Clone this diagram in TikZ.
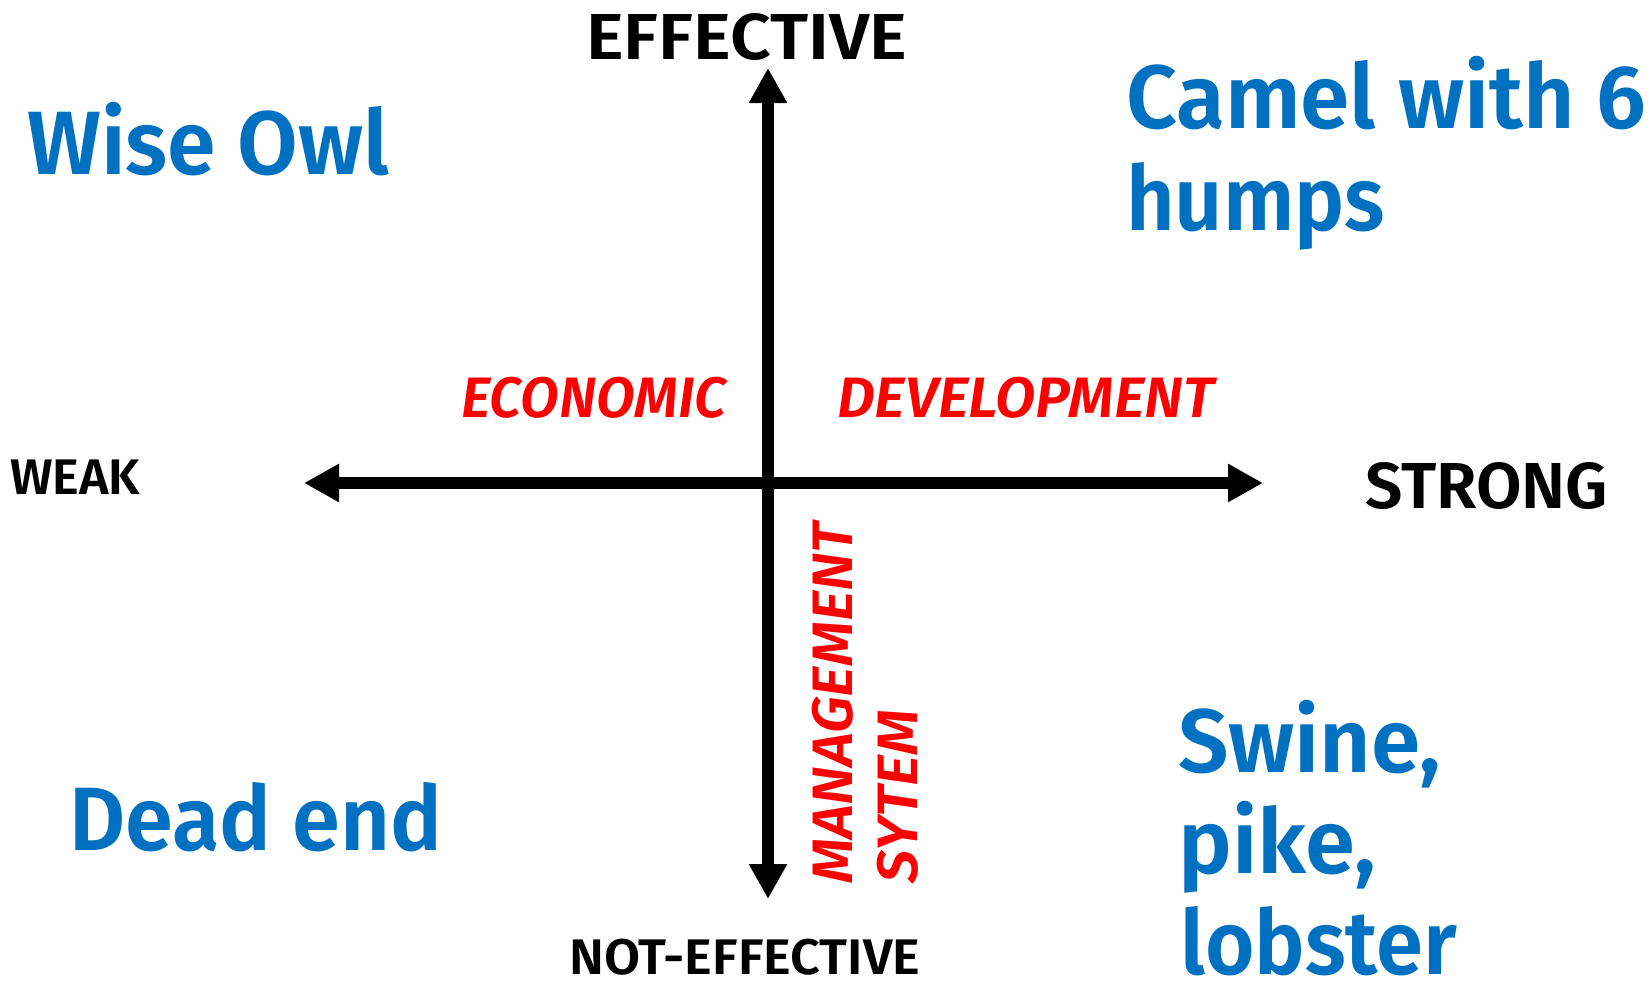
\documentclass[tikz,border=0pt]{standalone}
\usepackage{fontspec}
\setmainfont{Fira Sans}[BoldFont={Fira Sans SemiBold},BoldItalicFont={Fira Sans SemiBold Italic}]
\usetikzlibrary{arrows.meta}
\definecolor{qblue}{HTML}{0070C0}
\definecolor{qred}{HTML}{FF0000}
\newcommand\fitto[2]{\resizebox{#1pt}{\height}{#2}}
\tikzset{
  lbl/.style={inner sep=0pt, anchor=base west},
  quad/.style={lbl, text=qblue, font=\bfseries\fontsize{90}{90}\selectfont},
  axbig/.style={lbl, text=black, font=\bfseries\fontsize{65}{65}\selectfont},
  axsmall/.style={lbl, text=black, font=\bfseries\fontsize{50}{50}\selectfont},
  redlbl/.style={lbl, text=qred, font=\bfseries\itshape\fontsize{57}{57}\selectfont},
  axisline/.style={line width=12pt, {Triangle[length=35pt,width=36pt]}-{Triangle[length=35pt,width=36pt]}},
}
\begin{document}
\begin{tikzpicture}[x=1pt,y=-1pt]
\useasboundingbox (0,0) rectangle (1652,980);
\coordinate (L) at (304,483);
\coordinate (R) at (1263,483);
\coordinate (T) at (768,68);
\coordinate (B) at (768,899);
\draw[axisline] (L) -- (R);
\draw[axisline] (T) -- (B);
% axis labels
\node[axbig] (eff) at (586,59) {\fitto{321}{EFFECTIVE}};
\node[axsmall] (noteff) at (569,974) {\fitto{351}{NOT-EFFECTIVE}};
\node[axsmall] (weak) at (10,494) {\fitto{130}{WEAK}};
\node[axbig] (strong) at (1365,508) {\fitto{243}{STRONG}};
% quadrant labels
\node[quad] (owl) at (27,174) {\fitto{362}{Wise Owl}};
\node[quad] (camel1) at (1126,128) {\fitto{520}{Camel with 6}};
\node[quad] (camel2) at (1126,230) {\fitto{259}{humps}};
\node[quad] (dead) at (69,850) {\fitto{373}{Dead end}};
\node[quad] (swine1) at (1178,772) {\fitto{263}{Swine,}};
\node[quad] (swine2) at (1178,873) {\fitto{198}{pike,}};
\node[quad] (swine3) at (1180,974) {\fitto{277}{lobster}};
% red labels
\node[redlbl] (econ) at (461,417) {\fitto{265}{ECONOMIC}};
\node[redlbl] (dev) at (837,417) {\fitto{377}{DEVELOPMENT}};
\node[redlbl, rotate=90] (mgmt) at (852,884) {\fitto{361}{MANAGEMENT}};
\node[redlbl, rotate=90] (sys) at (917,884) {\fitto{174}{SYTEM}};
\end{tikzpicture}
\end{document}
